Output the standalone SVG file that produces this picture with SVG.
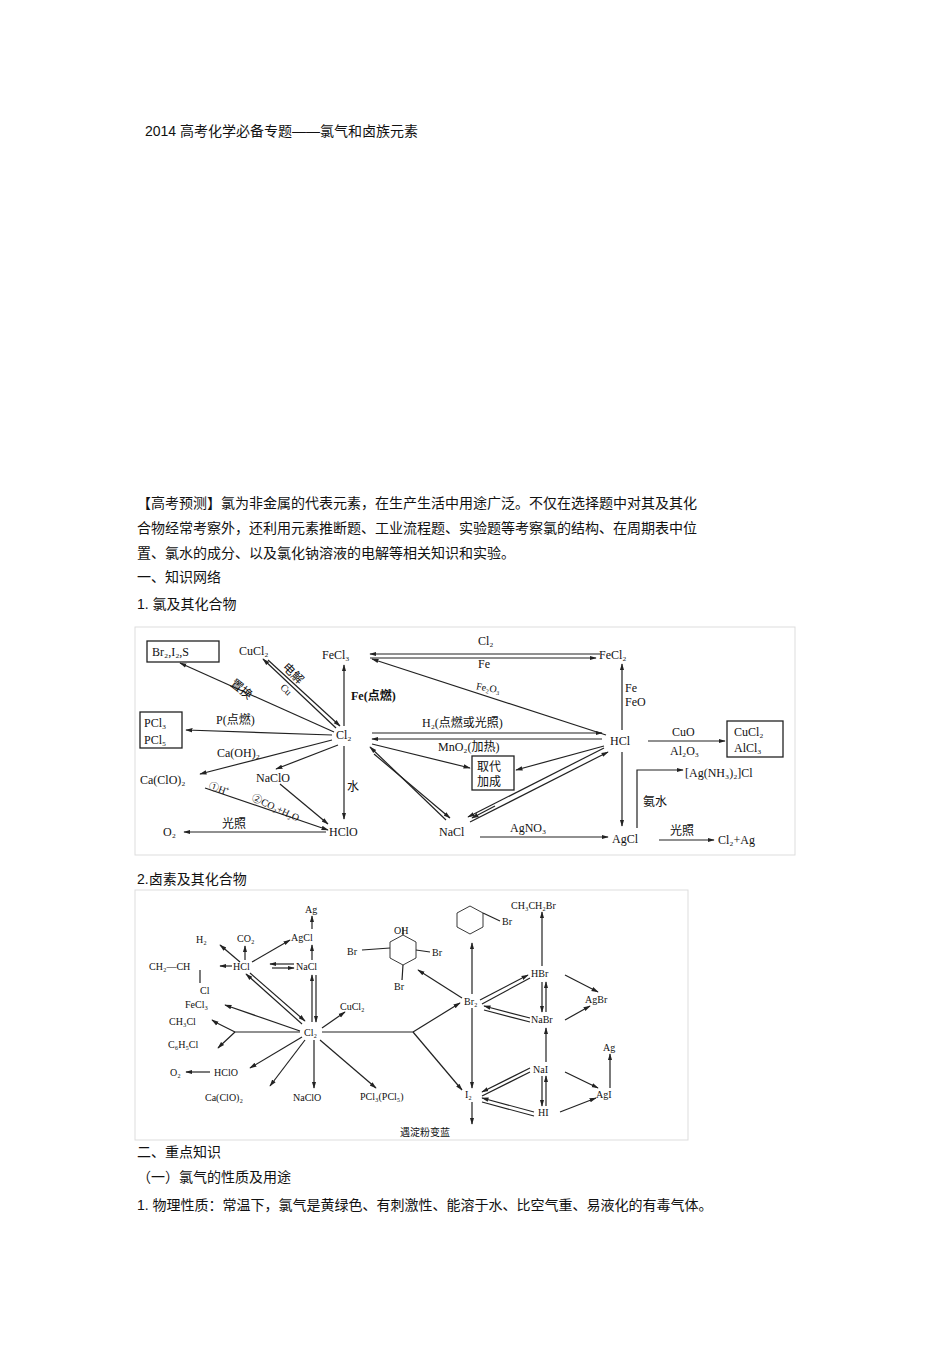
<svg xmlns="http://www.w3.org/2000/svg" width="950" height="1345" viewBox="0 0 950 1345">
<defs>
<marker id="a" viewBox="0 0 10 10" refX="9" refY="5" markerWidth="6" markerHeight="6" orient="auto"><path d="M0,2 L10,5 L0,8 Z" fill="#222"/></marker>
</defs>
<style>
.t{font-family:"Liberation Sans","Noto Sans CJK SC",sans-serif;font-size:14px;fill:#111}
.d{font-family:"Liberation Serif","Noto Sans CJK SC",serif;font-size:12px;fill:#111}
.s{font-family:"Liberation Serif","Noto Sans CJK SC",serif;font-size:10px;fill:#111}
line,path.l,polyline{stroke:#222;stroke-width:1.2;fill:none}
.ar{marker-end:url(#a)}
.bx{fill:none;stroke:#222;stroke-width:1.3}
</style>
<rect width="950" height="1345" fill="#fff"/>
<g id="text">
<text class="t" x="145" y="136">2014 高考化学必备专题——氯气和卤族元素</text>
<text class="t" x="137" y="508">【高考预测】氯为非金属的代表元素，在生产生活中用途广泛。不仅在选择题中对其及其化</text>
<text class="t" x="137" y="533">合物经常考察外，还利用元素推断题、工业流程题、实验题等考察氯的结构、在周期表中位</text>
<text class="t" x="137" y="558">置、氯水的成分、以及氯化钠溶液的电解等相关知识和实验。</text>
<text class="t" x="137" y="582">一、知识网络</text>
<text class="t" x="137" y="609">1.  氯及其化合物</text>
<text class="t" x="137" y="884">2.卤素及其化合物</text>
<text class="t" x="137" y="1157">二、重点知识</text>
<text class="t" x="137" y="1182">（一）氯气的性质及用途</text>
<text class="t" x="137" y="1210">1.  物理性质：常温下，氯气是黄绿色、有刺激性、能溶于水、比空气重、易液化的有毒气体。</text>
</g>
<g id="diagram1">
<rect x="135" y="627" width="660" height="228" fill="none" stroke="#ddd"/>
<g id="n-cl2"><text class="d" x="336" y="739">Cl₂</text></g>
<g id="n-fecl3"><text class="d" x="322" y="659">FeCl₃</text></g>
<g id="n-cucl2"><text class="d" x="239" y="655">CuCl₂</text></g>
<g id="n-br2"><rect class="bx" x="147" y="641" width="72" height="21"/><text class="d" x="152" y="656">Br₂,I₂,S</text></g>
<g id="n-pcl"><rect class="bx" x="140" y="712" width="42" height="36"/><text class="d" x="144" y="727">PCl₃</text><text class="d" x="144" y="744">PCl₅</text></g>
<g id="n-caclo"><text class="d" x="140" y="784">Ca(ClO)₂</text></g>
<g id="n-naclo"><text class="d" x="256" y="782">NaClO</text></g>
<g id="n-hclo"><text class="d" x="329" y="836">HClO</text></g>
<g id="n-o2"><text class="d" x="163" y="836">O₂</text></g>
<g id="n-fecl2"><text class="d" x="599" y="659">FeCl₂</text></g>
<g id="n-hcl"><text class="d" x="610" y="745">HCl</text></g>
<g id="n-cucl2b"><rect class="bx" x="727" y="721" width="56" height="36"/><text class="d" x="734" y="736">CuCl₂</text><text class="d" x="734" y="752">AlCl₃</text></g>
<g id="n-qd"><rect class="bx" x="472" y="756" width="42" height="34"/><text class="d" x="477" y="771">取代</text><text class="d" x="477" y="786">加成</text></g>
<g id="n-agnh"><text class="d" x="685" y="777">[Ag(NH₃)₂]Cl</text></g>
<g id="n-agcl"><text class="d" x="612" y="843">AgCl</text></g>
<g id="n-clag"><text class="d" x="718" y="844">Cl₂+Ag</text></g>
<g id="n-nacl"><text class="d" x="439" y="836">NaCl</text></g>
<g id="c1">
<line class="ar" x1="334" y1="732" x2="180" y2="663"/>
<line class="ar" x1="336" y1="728" x2="263" y2="659"/>
<line class="ar" x1="268" y1="660" x2="340" y2="726"/>
<line class="ar" x1="344" y1="726" x2="344" y2="665"/>
<line class="ar" x1="332" y1="735" x2="186" y2="730"/>
<line class="ar" x1="332" y1="740" x2="200" y2="774"/>
<line class="ar" x1="338" y1="745" x2="276" y2="769"/>
<line class="ar" x1="344" y1="746" x2="344" y2="819"/>
<line class="ar" x1="280" y1="784" x2="328" y2="824"/>
<line class="ar" x1="205" y1="788" x2="328" y2="830"/>
<line class="ar" x1="326" y1="832" x2="184" y2="832"/>
<line class="ar" x1="600" y1="654" x2="370" y2="654"/>
<line class="ar" x1="370" y1="658" x2="596" y2="658"/>
<line class="ar" x1="606" y1="735" x2="372" y2="659"/>
<line class="ar" x1="622" y1="730" x2="622" y2="664"/>
<line class="ar" x1="372" y1="733" x2="602" y2="733"/>
<line class="ar" x1="602" y1="739" x2="372" y2="739"/>
<line class="ar" x1="372" y1="744" x2="470" y2="768"/>
<line class="ar" x1="604" y1="746" x2="516" y2="770"/>
<line class="ar" x1="374" y1="754" x2="450" y2="818"/>
<line class="ar" x1="446" y1="820" x2="370" y2="747"/>
<line class="ar" x1="470" y1="822" x2="608" y2="752"/>
<line class="ar" x1="604" y1="748" x2="468" y2="817"/>
<line class="ar" x1="495" y1="806" x2="472" y2="818"/>
<line class="ar" x1="648" y1="741" x2="725" y2="741"/>
<line class="ar" x1="622" y1="752" x2="622" y2="826"/>
<polyline class="ar" points="637,828 637,770 683,770"/>
<line class="ar" x1="480" y1="837" x2="608" y2="837"/>
<line class="ar" x1="659" y1="840" x2="714" y2="840"/>
</g>
<g id="labels1">
<text class="d" x="230" y="692" transform="rotate(38 240 688)">置换</text>
<text class="d" x="280" y="672" transform="rotate(45 286 672)">电解</text>
<text class="s" x="280" y="693" transform="rotate(45 286 690)">Cu</text>
<text class="d" x="351" y="700" font-weight="bold">Fe(点燃)</text>
<text class="d" x="216" y="724">P(点燃)</text>
<text class="d" x="217" y="757">Ca(OH)₂</text>
<text class="s" x="208" y="791" transform="rotate(20 215 790)">①H⁺</text>
<text class="s" x="250" y="805" transform="rotate(25 262 805)">②CO₂+H₂O</text>
<text class="d" x="347" y="791">水</text>
<text class="d" x="222" y="828">光照</text>
<text class="d" x="478" y="645">Cl₂</text>
<text class="d" x="478" y="668">Fe</text>
<text class="s" x="476" y="690" transform="rotate(10 480 688)">Fe₂O₃</text>
<text class="d" x="625" y="692">Fe</text>
<text class="d" x="625" y="706">FeO</text>
<text class="d" x="422" y="727">H₂(点燃或光照)</text>
<text class="d" x="438" y="751">MnO₂(加热)</text>
<text class="d" x="672" y="736">CuO</text>
<text class="d" x="670" y="755">Al₂O₃</text>
<text class="d" x="643" y="806">氨水</text>
<text class="d" x="510" y="832">AgNO₃</text>
<text class="d" x="670" y="835">光照</text>
</g>
</g>
<g id="diagram2">
<rect x="135" y="890" width="553" height="250" fill="none" stroke="#ddd"/>
<g class="s">
<text class="s" x="305" y="913">Ag</text>
<text class="s" x="291" y="941">AgCl</text>
<text class="s" x="237" y="942">CO₂</text>
<text class="s" x="196" y="943">H₂</text>
<text class="s" x="149" y="970">CH₂—CH</text>
<text class="s" x="233" y="970">HCl</text>
<text class="s" x="296" y="970">NaCl</text>
<text class="s" x="200" y="994">Cl</text>
<text class="s" x="185" y="1008">FeCl₃</text>
<text class="s" x="169" y="1025">CH₃Cl</text>
<text class="s" x="168" y="1048">C₆H₅Cl</text>
<text class="s" x="170" y="1076">O₂</text>
<text class="s" x="214" y="1076">HClO</text>
<text class="s" x="205" y="1101">Ca(ClO)₂</text>
<text class="s" x="293" y="1101">NaClO</text>
<text class="s" x="360" y="1100">PCl₃(PCl₅)</text>
<text class="s" x="340" y="1010">CuCl₂</text>
<text class="s" x="304" y="1036">Cl₂</text>
<text class="s" x="394" y="934">OH</text>
<text class="s" x="347" y="955">Br</text>
<text class="s" x="432" y="956">Br</text>
<text class="s" x="394" y="990">Br</text>
<text class="s" x="502" y="925">Br</text>
<text class="s" x="511" y="909">CH₃CH₂Br</text>
<text class="s" x="464" y="1005">Br₂</text>
<text class="s" x="531" y="977">HBr</text>
<text class="s" x="531" y="1023">NaBr</text>
<text class="s" x="585" y="1003">AgBr</text>
<text class="s" x="533" y="1073">NaI</text>
<text class="s" x="538" y="1116">HI</text>
<text class="s" x="596" y="1098">AgI</text>
<text class="s" x="603" y="1051">Ag</text>
<text class="s" x="465" y="1098">I₂</text>
<text class="s" x="400" y="1136">遇淀粉变蓝</text>
</g>
<g id="c2" stroke-width="0.9">
<line class="ar" x1="312" y1="929" x2="312" y2="916"/>
<line class="ar" x1="312" y1="960" x2="312" y2="945"/>
<line class="ar" x1="245" y1="960" x2="245" y2="946"/>
<line class="ar" x1="240" y1="962" x2="220" y2="945"/>
<line class="ar" x1="252" y1="962" x2="290" y2="940"/>
<line class="ar" x1="232" y1="966" x2="220" y2="966"/>
<line class="ar" x1="294" y1="964" x2="270" y2="964"/>
<line class="ar" x1="272" y1="968" x2="294" y2="968"/>
<line x1="200" y1="970" x2="200" y2="983"/>
<line class="ar" x1="302" y1="1024" x2="246" y2="974"/>
<line class="ar" x1="250" y1="973" x2="305" y2="1021"/>
<line class="ar" x1="312" y1="1022" x2="312" y2="975"/>
<line class="ar" x1="316" y1="975" x2="316" y2="1022"/>
<line class="ar" x1="300" y1="1031" x2="225" y2="1005"/>
<line x1="300" y1="1032" x2="235" y2="1032"/>
<polyline class="ar" points="235,1032 215,1022 212,1020"/>
<polyline class="ar" points="235,1032 220,1046 218,1048"/>
<line class="ar" x1="302" y1="1037" x2="250" y2="1068"/>
<line class="ar" x1="210" y1="1072" x2="186" y2="1072"/>
<line class="ar" x1="305" y1="1040" x2="270" y2="1086"/>
<line class="ar" x1="314" y1="1040" x2="314" y2="1088"/>
<line class="ar" x1="320" y1="1040" x2="376" y2="1088"/>
<line class="ar" x1="322" y1="1028" x2="345" y2="1012"/>
<line x1="322" y1="1032" x2="413" y2="1032"/>
<line class="ar" x1="413" y1="1032" x2="460" y2="1003"/>
<line class="ar" x1="413" y1="1032" x2="462" y2="1090"/>
<line class="ar" x1="462" y1="998" x2="418" y2="970"/>
<line class="ar" x1="472" y1="994" x2="472" y2="943"/>
<line class="ar" x1="472" y1="1008" x2="472" y2="1088"/>
<line class="ar" x1="472" y1="1102" x2="472" y2="1124"/>
<line class="ar" x1="480" y1="1000" x2="528" y2="975"/>
<line x1="482" y1="1004" x2="530" y2="978"/>
<line class="ar" x1="530" y1="1018" x2="484" y2="1006"/>
<line x1="530" y1="1022" x2="484" y2="1010"/>
<line class="ar" x1="542" y1="966" x2="542" y2="912"/>
<line class="ar" x1="542" y1="982" x2="542" y2="1012"/>
<line class="ar" x1="546" y1="1012" x2="546" y2="982"/>
<line class="ar" x1="565" y1="975" x2="598" y2="992"/>
<line class="ar" x1="565" y1="1020" x2="590" y2="1006"/>
<line class="ar" x1="546" y1="1062" x2="546" y2="1028"/>
<line class="ar" x1="542" y1="1076" x2="542" y2="1106"/>
<line class="ar" x1="546" y1="1106" x2="546" y2="1076"/>
<line class="ar" x1="530" y1="1068" x2="482" y2="1092"/>
<line x1="530" y1="1072" x2="482" y2="1096"/>
<line class="ar" x1="534" y1="1112" x2="482" y2="1098"/>
<line x1="534" y1="1116" x2="482" y2="1102"/>
<line class="ar" x1="565" y1="1072" x2="598" y2="1088"/>
<line class="ar" x1="560" y1="1112" x2="596" y2="1098"/>
<line class="ar" x1="610" y1="1088" x2="610" y2="1054"/>
<polygon points="390,942 403,935 416,942 416,958 403,965 390,958" fill="none" stroke="#222"/>
<line x1="403" y1="935" x2="403" y2="928"/>
<line x1="390" y1="948" x2="362" y2="950"/>
<line x1="416" y1="950" x2="430" y2="952"/>
<line x1="403" y1="965" x2="402" y2="980"/>
<polygon points="457,913 470,906 483,913 483,927 470,934 457,927" fill="none" stroke="#222"/>
<line x1="483" y1="913" x2="500" y2="921"/>
</g>
</g>
</svg>
